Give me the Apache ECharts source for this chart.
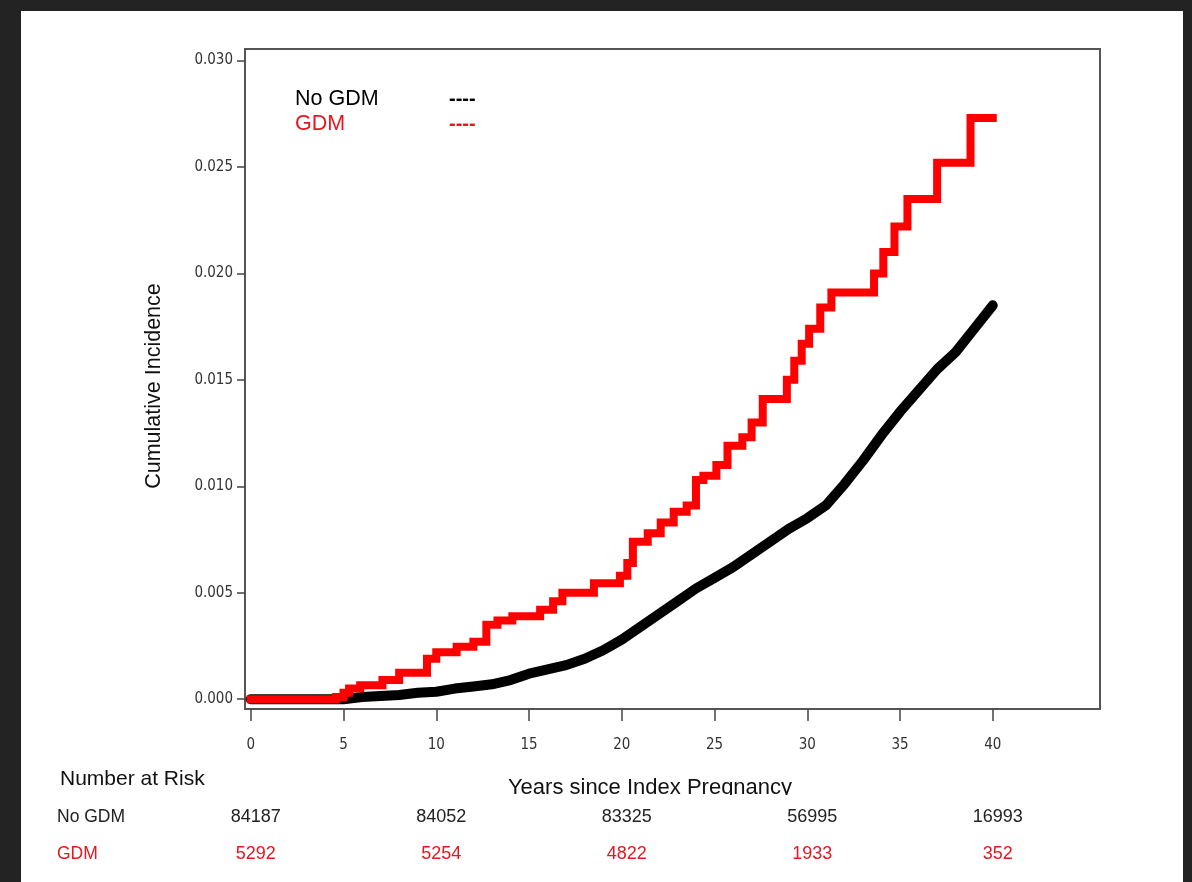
<!DOCTYPE html>
<html>
<head>
<meta charset="utf-8">
<title>Cumulative Incidence</title>
<script src="https://cdn.jsdelivr.net/npm/echarts@6/dist/echarts.min.js"></script>
<style>
  html, body { margin: 0; padding: 0; background: #fff; }
  #chart { width: 1192px; height: 882px; }
</style>
</head>
<body>
<div id="chart"></div>
<script>
"use strict";

// 坐标刻度
const xTicks = [0, 5, 10, 15, 20, 25, 30, 35, 40];
const yTicks = [0, 0.005, 0.010, 0.015, 0.020, 0.025, 0.030];

// No GDM 曲线 (years, cumulative incidence)
const noGdmYears = [0, 5, 6, 7, 8, 9, 10, 11, 12, 13, 14, 15, 16, 17, 18, 19, 20, 21, 22, 23,
  24, 25, 26, 27, 28, 29, 30, 31, 32, 33, 34, 35, 36, 37, 38, 39, 40];
const noGdmValues = [0, 0, 0.0001, 0.00015, 0.0002, 0.0003, 0.00035, 0.0005, 0.0006, 0.0007,
  0.0009, 0.0012, 0.0014, 0.0016, 0.0019, 0.0023, 0.0028, 0.0034, 0.0040, 0.0046,
  0.0052, 0.0057, 0.0062, 0.0068, 0.0074, 0.0080, 0.0085, 0.0091, 0.0101, 0.0112,
  0.0124, 0.0135, 0.0145, 0.0155, 0.0163, 0.0174, 0.0185];

// GDM 阶梯曲线
const gdmYears = [0, 4.6, 5.0, 5.3, 5.9, 7.1, 8.0, 9.5, 10.0, 11.1,
  12.0, 12.7, 13.3, 14.1, 15.6, 16.3, 16.8, 18.5, 19.9, 20.3,
  20.6, 21.4, 22.1, 22.8, 23.5, 24.0, 24.4, 25.1, 25.7, 26.5,
  27.0, 27.6, 28.9, 29.3, 29.7, 30.1, 30.7, 31.3, 33.6, 34.1,
  34.7, 35.4, 37.0, 38.8, 40.0];
const gdmValues = [0, 0.0001, 0.0003, 0.0005, 0.00066, 0.0009, 0.00124, 0.0019, 0.0022, 0.00246,
  0.0027, 0.0035, 0.0037, 0.0039, 0.0042, 0.0046, 0.0050, 0.00545, 0.0058, 0.0064,
  0.0074, 0.0078, 0.0083, 0.0088, 0.0091, 0.0103, 0.0105, 0.0110, 0.0119, 0.0123,
  0.0130, 0.0141, 0.0150, 0.0159, 0.0167, 0.0174, 0.0184, 0.0191, 0.0200, 0.0210,
  0.0222, 0.0235, 0.0252, 0.0273, 0.0273];

// Number at Risk 表
const riskYears = [0, 10, 20, 30, 40];
const riskNoGdm = [84187, 84052, 83325, 56995, 16993];
const riskGdm = [5292, 5254, 4822, 1933, 352];

const RED = '#ff0000';
const RED_TEXT = '#e8161e';
const SANS = '"Liberation Sans", Arial, sans-serif';
const NARROW = '"Liberation Sans Narrow", "DejaVu Sans Condensed", sans-serif';

const zip = (xs, ys) => xs.map((x, i) => [x, ys[i]]);

let chart = echarts.init(document.getElementById('chart'), null, { renderer: 'canvas' });

let option = {
  backgroundColor: '#fff',
  animation: false,
  grid: {
    show: true,
    left: 245,
    top: 49,
    right: 92,
    bottom: 173,
    borderColor: '#555',
    borderWidth: 2,
    backgroundColor: '#fff'
  },
  xAxis: {
    type: 'value',
    min: -0.31,
    max: 45.78,
    axisLine: { show: false, onZero: false },
    splitLine: { show: false },
    axisTick: {
      show: true,
      length: 12,
      customValues: xTicks,
      lineStyle: { color: '#444', width: 1.5 }
    },
    axisLabel: {
      customValues: xTicks,
      margin: 29,
      fontSize: 15,
      fontFamily: NARROW,
      color: '#333'
    }
  },
  yAxis: {
    type: 'value',
    min: -0.00046,
    max: 0.03054,
    name: 'Cumulative Incidence',
    nameLocation: 'middle',
    nameGap: 80,
    nameTextStyle: { fontSize: 21.5, fontFamily: SANS, color: '#111', padding: [0, 0, 0, -14] },
    axisLine: { show: false, onZero: false },
    splitLine: { show: false },
    axisTick: {
      show: true,
      length: 8,
      customValues: yTicks,
      lineStyle: { color: '#444', width: 1.5 }
    },
    axisLabel: {
      customValues: yTicks,
      margin: 12,
      fontSize: 15,
      fontFamily: NARROW,
      color: '#333',
      formatter: (v) => v.toFixed(3)
    }
  },
  series: [
    {
      name: 'No GDM',
      type: 'line',
      data: zip(noGdmYears, noGdmValues),
      symbol: 'none',
      lineStyle: { color: '#000', width: 10, cap: 'round', join: 'round' },
      z: 2
    },
    {
      name: 'GDM',
      type: 'line',
      step: 'end',
      data: zip(gdmYears, gdmValues),
      symbol: 'none',
      lineStyle: { color: RED, width: 8, cap: 'square', join: 'miter' },
      z: 3
    }
  ]
};

chart.setOption(option);

// 文字与风险表 (列位置由 x 轴换算)
let graphics = [
  { type: 'text', x: 295, y: 99, style: { text: 'No GDM', fill: '#000', font: '21.5px ' + SANS, verticalAlign: 'middle' } },
  { type: 'text', x: 295, y: 124, style: { text: 'GDM', fill: RED_TEXT, font: '21.5px ' + SANS, verticalAlign: 'middle' } },
  { type: 'text', x: 449, y: 99, style: { text: '----', fill: '#000', font: 'bold 20px ' + SANS, verticalAlign: 'middle' } },
  { type: 'text', x: 449, y: 124, style: { text: '----', fill: RED_TEXT, font: 'bold 20px ' + SANS, verticalAlign: 'middle' } },
  { type: 'text', x: 650, y: 788, style: { text: 'Years since Index Pregnancy', fill: '#111', font: '22px ' + SANS, align: 'center', verticalAlign: 'middle' } },
  // 原图标题下沿被裁掉
  { type: 'rect', shape: { x: 480, y: 795, width: 340, height: 10 }, style: { fill: '#fff' }, z: 10 },
  { type: 'text', x: 60, y: 779, style: { text: 'Number at Risk', fill: '#111', font: '21px ' + SANS, verticalAlign: 'middle' } },
  { type: 'text', x: 57, y: 817, style: { text: 'No GDM', fill: '#222', font: '17.5px ' + SANS, verticalAlign: 'middle' } },
  { type: 'text', x: 57, y: 854, style: { text: 'GDM', fill: RED_TEXT, font: '17.5px ' + SANS, verticalAlign: 'middle' } },
  // 外框暗边
  { type: 'rect', shape: { x: 0, y: 0, width: 1192, height: 11 }, style: { fill: '#232323' }, z: 20 },
  { type: 'rect', shape: { x: 0, y: 0, width: 21, height: 882 }, style: { fill: '#232323' }, z: 20 },
  { type: 'rect', shape: { x: 1183, y: 0, width: 9, height: 882 }, style: { fill: '#232323' }, z: 20 }
];

riskYears.forEach((yr, i) => {
  let px = chart.convertToPixel({ gridIndex: 0 }, [yr, 0])[0];
  graphics.push({ type: 'text', x: px + 5, y: 817, style: { text: String(riskNoGdm[i]), fill: '#222', font: '18px ' + SANS, align: 'center', verticalAlign: 'middle' } });
  graphics.push({ type: 'text', x: px + 5, y: 854, style: { text: String(riskGdm[i]), fill: RED_TEXT, font: '18px ' + SANS, align: 'center', verticalAlign: 'middle' } });
});

chart.setOption({ graphic: graphics });
</script>
</body>
</html>
